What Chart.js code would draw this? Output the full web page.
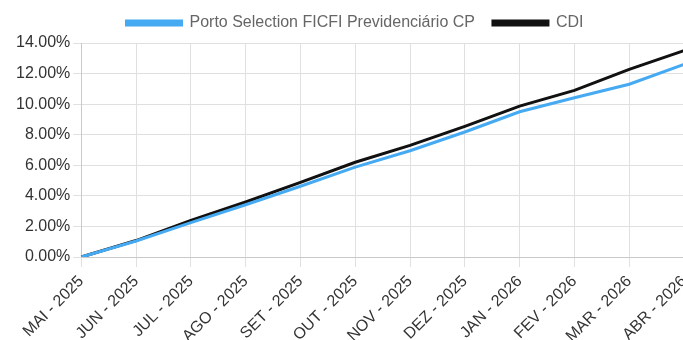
<!DOCTYPE html>
<html>
<head>
<meta charset="utf-8">
<script src="https://cdn.jsdelivr.net/npm/chart.js@4"></script>
<style>
  html, body { margin: 0; padding: 0; background: #fff; overflow: hidden; }
  #wrap { width: 710px; height: 351px; position: relative; }
</style>
</head>
<body>
<div id="wrap"><canvas id="chart"></canvas></div>
<script>
const months = ["MAI - 2025", "JUN - 2025", "JUL - 2025", "AGO - 2025", "SET - 2025", "OUT - 2025",
  "NOV - 2025", "DEZ - 2025", "JAN - 2026", "FEV - 2026", "MAR - 2026", "ABR - 2026"];
const fundReturn = [0, 1.05, 2.25, 3.42, 4.63, 5.88, 6.95, 8.18, 9.5, 10.42, 11.3, 12.6];
const cdiReturn = [0, 1.08, 2.4, 3.6, 4.88, 6.2, 7.3, 8.55, 9.87, 10.9, 12.28, 13.5];

const textFont = { family: "Liberation Sans, Arial", size: 16 };

// a little extra space between the legend and the plot
const legendGap = {
  id: "legendGap",
  beforeInit(chart) {
    const fit = chart.legend.fit;
    chart.legend.fit = function () {
      fit.bind(chart.legend)();
      this.height += 2;
    };
  },
};

window.addEventListener("load", function () {
  // rentabilidade acumulada: fundo x CDI
  new Chart(document.getElementById("chart"), {
    type: "line",
    data: {
      labels: months,
      datasets: [
        {
          label: "Porto Selection FICFI Previdenciário CP",
          data: fundReturn,
          borderColor: "#45aaf2",
          backgroundColor: "#45aaf2",
          borderWidth: 3,
          pointRadius: 0,
          tension: 0,
        },
        {
          label: "CDI",
          data: cdiReturn,
          borderColor: "#111111",
          backgroundColor: "#111111",
          borderWidth: 3,
          pointRadius: 0,
          tension: 0,
        },
      ],
    },
    options: {
      responsive: true,
      maintainAspectRatio: false,
      animation: false,
      layout: { padding: { left: 13, right: 13, top: -3 } },
      plugins: {
        legend: {
          labels: {
            boxWidth: 55,
            boxHeight: 4,
            padding: 18,
            color: "#666",
            font: textFont,
          },
        },
        tooltip: { enabled: false },
      },
      scales: {
        x: {
          offset: false,
          grid: { color: "#e0e0e0", tickLength: 10 },
          ticks: {
            maxRotation: 45,
            minRotation: 45,
            padding: 5,
            color: "#333",
            font: textFont,
          },
          // leave room on the right so the last month sits near the edge
          afterFit: (scale) => {
            scale.paddingRight = 26;
          },
        },
        y: {
          min: 0,
          max: 14,
          grid: { color: "#e0e0e0" },
          ticks: {
            stepSize: 2,
            color: "#333",
            font: textFont,
            callback: (v) => v.toFixed(2) + "%",
          },
        },
      },
    },
    plugins: [legendGap],
  });
});
</script>
</body>
</html>
